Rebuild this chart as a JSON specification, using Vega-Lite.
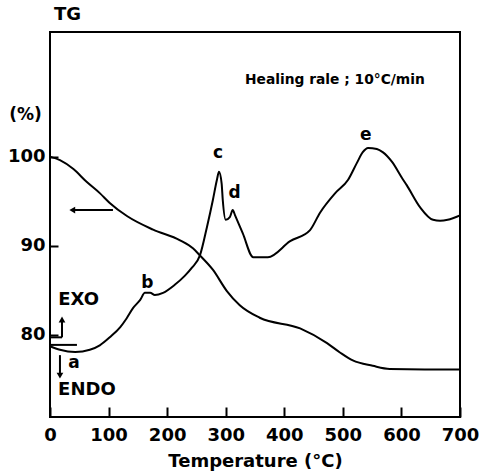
{
  "$schema": "https://vega.github.io/schema/vega-lite/v6.json",
  "width": 410,
  "height": 385,
  "autosize": "none",
  "padding": {"left": 50, "top": 32, "right": 19, "bottom": 58},
  "background": "white",
  "config": {
    "view": {"stroke": "black", "strokeWidth": 2},
    "font": "DejaVu Sans",
    "axis": {"grid": false, "domain": false, "tickColor": "black", "tickWidth": 2, "labelColor": "black", "labelFont": "DejaVu Sans", "labelFontWeight": "bold", "labelFontSize": 18, "titleColor": "black", "titleFont": "DejaVu Sans", "titleFontWeight": "bold"}
  },
  "title": {"text": "TG", "anchor": "start", "frame": "group", "fontSize": 18, "fontWeight": "bold", "font": "DejaVu Sans", "color": "black", "offset": 8, "dx": 4},
  "datasets": {
    "curves": [
      {"series": "TG", "t": 0, "v": 100.0},
      {"series": "TG", "t": 17, "v": 99.6},
      {"series": "TG", "t": 40, "v": 98.6},
      {"series": "TG", "t": 62, "v": 97.2},
      {"series": "TG", "t": 85, "v": 95.9},
      {"series": "TG", "t": 102, "v": 94.8},
      {"series": "TG", "t": 132, "v": 93.3},
      {"series": "TG", "t": 176, "v": 91.8},
      {"series": "TG", "t": 222, "v": 90.6},
      {"series": "TG", "t": 244, "v": 89.7},
      {"series": "TG", "t": 256, "v": 88.9},
      {"series": "TG", "t": 278, "v": 87.3},
      {"series": "TG", "t": 302, "v": 84.9},
      {"series": "TG", "t": 324, "v": 83.3},
      {"series": "TG", "t": 358, "v": 81.9},
      {"series": "TG", "t": 427, "v": 80.7},
      {"series": "TG", "t": 473, "v": 79.05},
      {"series": "TG", "t": 495, "v": 78.0},
      {"series": "TG", "t": 517, "v": 77.1},
      {"series": "TG", "t": 551, "v": 76.5},
      {"series": "TG", "t": 580, "v": 76.15},
      {"series": "TG", "t": 640, "v": 76.1},
      {"series": "TG", "t": 700, "v": 76.1},
      {"series": "DTA", "t": 0, "v": 78.7},
      {"series": "DTA", "t": 17, "v": 78.3},
      {"series": "DTA", "t": 43, "v": 78.05},
      {"series": "DTA", "t": 68, "v": 78.3},
      {"series": "DTA", "t": 85, "v": 78.8},
      {"series": "DTA", "t": 102, "v": 79.7},
      {"series": "DTA", "t": 120, "v": 80.85},
      {"series": "DTA", "t": 131, "v": 81.85},
      {"series": "DTA", "t": 142, "v": 83.0},
      {"series": "DTA", "t": 154, "v": 83.9},
      {"series": "DTA", "t": 162, "v": 84.7},
      {"series": "DTA", "t": 171, "v": 84.7},
      {"series": "DTA", "t": 179, "v": 84.45},
      {"series": "DTA", "t": 193, "v": 84.7},
      {"series": "DTA", "t": 213, "v": 85.6},
      {"series": "DTA", "t": 230, "v": 86.6},
      {"series": "DTA", "t": 242, "v": 87.5},
      {"series": "DTA", "t": 256, "v": 88.9},
      {"series": "DTA", "t": 268, "v": 92.1},
      {"series": "DTA", "t": 278, "v": 95.1},
      {"series": "DTA", "t": 285, "v": 97.4},
      {"series": "DTA", "t": 288.5, "v": 98.3},
      {"series": "DTA", "t": 293, "v": 97.0},
      {"series": "DTA", "t": 295, "v": 95.1},
      {"series": "DTA", "t": 300, "v": 92.9},
      {"series": "DTA", "t": 307, "v": 93.2},
      {"series": "DTA", "t": 312, "v": 94.0},
      {"series": "DTA", "t": 316, "v": 93.4},
      {"series": "DTA", "t": 329, "v": 91.4},
      {"series": "DTA", "t": 347, "v": 88.7},
      {"series": "DTA", "t": 355, "v": 88.7},
      {"series": "DTA", "t": 372, "v": 88.7},
      {"series": "DTA", "t": 410, "v": 90.5},
      {"series": "DTA", "t": 444, "v": 91.75},
      {"series": "DTA", "t": 461, "v": 93.7},
      {"series": "DTA", "t": 487, "v": 95.9},
      {"series": "DTA", "t": 509, "v": 97.4},
      {"series": "DTA", "t": 524, "v": 99.3},
      {"series": "DTA", "t": 534, "v": 100.5},
      {"series": "DTA", "t": 543, "v": 100.97},
      {"series": "DTA", "t": 558, "v": 100.85},
      {"series": "DTA", "t": 568, "v": 100.5},
      {"series": "DTA", "t": 584, "v": 99.4},
      {"series": "DTA", "t": 601, "v": 97.6},
      {"series": "DTA", "t": 609, "v": 96.8},
      {"series": "DTA", "t": 632, "v": 94.3},
      {"series": "DTA", "t": 654, "v": 92.9},
      {"series": "DTA", "t": 666, "v": 92.8},
      {"series": "DTA", "t": 679, "v": 92.9},
      {"series": "DTA", "t": 700, "v": 93.4}
    ],
    "segments": [
      {"name": "exo-h", "t": 0, "t2": 20.5, "v": 79.7, "v2": 79.7},
      {"name": "exo-v", "t": 20.5, "t2": 20.5, "v": 79.7, "v2": 81.6},
      {"name": "base", "t": 0, "t2": 46, "v": 78.85, "v2": 78.85},
      {"name": "endo-v", "t": 17, "t2": 17, "v": 77.7, "v2": 75.6},
      {"name": "tg-arrow", "t": 40, "t2": 107.5, "v": 94.0, "v2": 94.0}
    ],
    "heads": [
      {"dir": "up", "t": 20.5, "v": 81.7},
      {"dir": "down", "t": 17, "v": 75.4},
      {"dir": "left", "t": 38, "v": 94.0}
    ],
    "labels": [
      {"kind": "peak", "text": "a", "t": 41, "v": 76.8},
      {"kind": "peak", "text": "b", "t": 166, "v": 85.8},
      {"kind": "peak", "text": "c", "t": 287, "v": 100.4},
      {"kind": "peak", "text": "d", "t": 315, "v": 95.9},
      {"kind": "peak", "text": "e", "t": 539, "v": 102.4}
    ],
    "sides": [
      {"text": "EXO", "t": 49, "v": 83.9},
      {"text": "ENDO", "t": 63, "v": 73.8}
    ],
    "note": [
      {"text": "Healing rale ; 10°C/min", "t": 333, "v": 108.6}
    ]
  },
  "encoding": {
    "x": {"field": "t", "type": "quantitative", "scale": {"domain": [0, 700], "nice": false, "zero": false},
      "axis": {"values": [0, 100, 200, 300, 400, 500, 600, 700], "offset": -10, "tickSize": 10, "labelPadding": 9, "labelFlush": false, "labelOverlap": false, "title": "Temperature (°C)", "titleFontSize": 18, "titlePadding": 8}},
    "y": {"field": "v", "type": "quantitative", "scale": {"domain": [70.75, 114], "nice": false, "zero": false},
      "axis": {"values": [80, 90, 100], "tickSize": -8, "labelPadding": 13, "labelFlush": false, "title": "(%)", "titleAngle": 0, "titleFontSize": 17, "titleAlign": "center", "titleBaseline": "middle", "titleX": -25, "titleY": 82}}
  },
  "layer": [
    {"data": {"name": "curves"}, "mark": {"type": "line", "color": "black", "strokeWidth": 2, "interpolate": "monotone"},
      "encoding": {"detail": {"field": "series"}}},
    {"data": {"name": "segments"}, "mark": {"type": "rule", "color": "black", "strokeWidth": 2},
      "encoding": {"x2": {"field": "t2"}, "y2": {"field": "v2"}}},
    {"data": {"name": "heads"}, "transform": [{"filter": "datum.dir == 'up'"}], "mark": {"type": "point", "shape": "triangle-up", "filled": true, "color": "black", "size": 45, "opacity": 1}, "encoding": {}},
    {"data": {"name": "heads"}, "transform": [{"filter": "datum.dir == 'down'"}], "mark": {"type": "point", "shape": "triangle-down", "filled": true, "color": "black", "size": 45, "opacity": 1}, "encoding": {}},
    {"data": {"name": "heads"}, "transform": [{"filter": "datum.dir == 'left'"}], "mark": {"type": "point", "shape": "triangle-left", "filled": true, "color": "black", "size": 45, "opacity": 1}, "encoding": {}},
    {"data": {"name": "labels"}, "mark": {"type": "text", "color": "black", "fontSize": 17, "fontWeight": "bold", "font": "DejaVu Sans", "align": "center", "baseline": "middle"},
      "encoding": {"text": {"field": "text"}}},
    {"data": {"name": "sides"}, "mark": {"type": "text", "color": "black", "fontSize": 18, "fontWeight": "bold", "font": "DejaVu Sans", "align": "center", "baseline": "middle"},
      "encoding": {"text": {"field": "text"}}},
    {"data": {"name": "note"}, "mark": {"type": "text", "color": "black", "fontSize": 13.8, "fontWeight": "bold", "font": "DejaVu Sans", "align": "left", "baseline": "middle"},
      "encoding": {"text": {"field": "text"}}}
  ]
}
